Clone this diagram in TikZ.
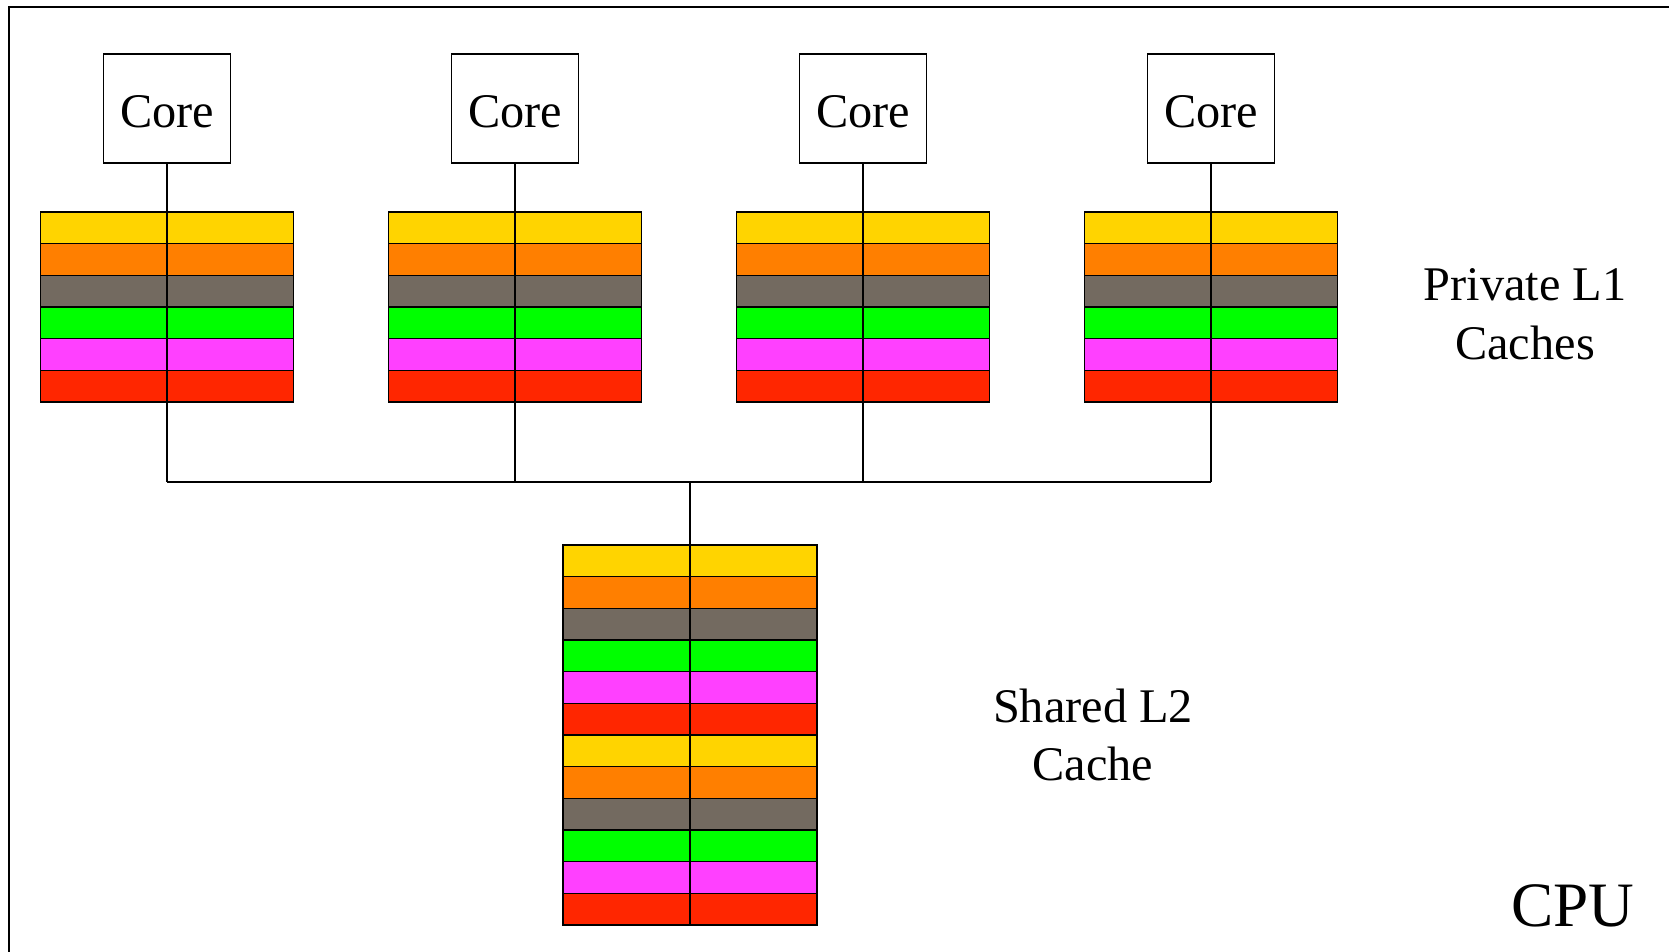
\documentclass[tikz,border=0pt]{standalone}
\usepackage{fontspec}
\setmainfont{Liberation Serif}
\usepackage{tikz}
\definecolor{cyellow}{RGB}{255,212,0}
\definecolor{corange}{RGB}{255,127,0}
\definecolor{cgray}{RGB}{115,106,96}
\definecolor{cgreen}{RGB}{0,255,0}
\definecolor{cpink}{RGB}{255,64,255}
\definecolor{cred}{RGB}{255,38,0}

\begin{document}
\begin{tikzpicture}[x=0.02cm,y=-0.02cm,
        corebox/.style={draw,line width=0.7pt,minimum width=2.54cm,minimum height=2.18cm,
            text height=22pt,text depth=0pt,font=\fontsize{27.5}{33.5}\selectfont},
        txtlbl/.style={align=center,font=\fontsize{27.5}{33.5}\selectfont},
        cell/.style={draw,line width=0.8pt}]
        \useasboundingbox (0,0) rectangle (1669,952);
        \draw[line width=1.1pt] (1669,7) -- (9,7) -- (9,952);

        % private L1 caches with their cores
        \foreach \n/\x in {1/167,2/515,3/863,4/1211} {
            \foreach \c [count=\i from 0] in {cyellow,corange,cgray,cgreen,cpink,cred} {
                \draw[cell,fill=\c] (\x-126.5,212+\i*31.67) rectangle (\x,212+\i*31.67+31.67);
                \draw[cell,fill=\c] (\x,212+\i*31.67) rectangle (\x+126.5,212+\i*31.67+31.67);
            }
            \node[corebox] (core\n) at (\x,108.5) {Core};
            \coordinate (bus\n) at (\x,482);
            \draw[line width=0.7pt] (core\n.south) -- (bus\n);
        }

        % shared L2 cache
        \foreach \c [count=\i from 0] in {cyellow,corange,cgray,cgreen,cpink,cred,
                                           cyellow,corange,cgray,cgreen,cpink,cred} {
            \draw[cell,fill=\c] (563,545+\i*31.67) rectangle (690,545+\i*31.67+31.67);
            \draw[cell,fill=\c] (690,545+\i*31.67) rectangle (817,545+\i*31.67+31.67);
        }
        \coordinate (busmid) at (690,482);
        \coordinate (l2top) at (690,545);
        \draw[line width=0.7pt] (bus1) -- (bus4);
        \draw[line width=0.7pt] (busmid) -- (l2top);

        \node[txtlbl] (l1txt) at (1525,314) {Private L1\\Caches};
        \node[txtlbl] (l2txt) at (1093,735) {Shared L2\\Cache};
        \node[font=\fontsize{36}{43}\selectfont] (cputxt) at (1573,906) {CPU};
    \end{tikzpicture}
\end{document}
